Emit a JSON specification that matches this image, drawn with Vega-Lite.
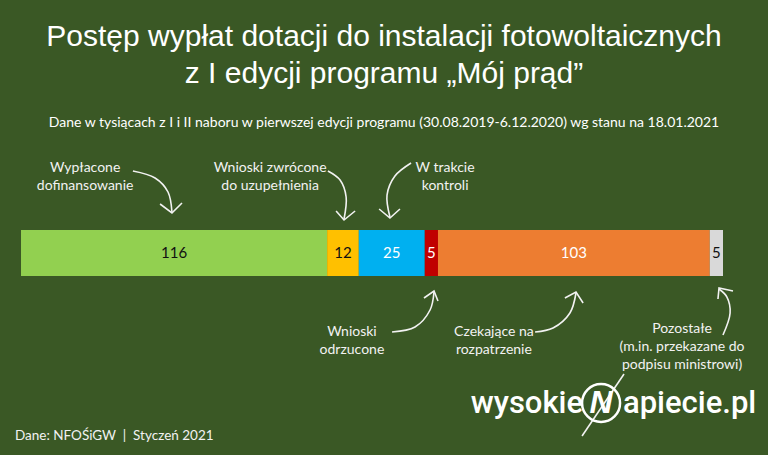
{
  "$schema": "https://vega.github.io/schema/vega-lite/v6.json",
  "width": 768,
  "height": 455,
  "autosize": {"type": "fit", "contains": "padding"},
  "padding": {"top": 22, "left": 0, "right": 0, "bottom": 0},
  "background": "#3a5825",
  "config": {"view": {"stroke": null}},
  "title": {
    "text": ["Postęp wypłat dotacji do instalacji fotowoltaicznych", "z I edycji programu „Mój prąd”"],
    "subtitle": "Dane w tysiącach z I i II naboru w pierwszej edycji programu (30.08.2019-6.12.2020) wg stanu na 18.01.2021",
    "anchor": "middle",
    "frame": "group",
    "color": "#ffffff",
    "font": "Liberation Sans",
    "fontSize": 30,
    "fontWeight": "normal",
    "lineHeight": 37,
    "subtitleColor": "#ffffff",
    "subtitleFont": "Lato",
    "subtitleFontSize": 14,
    "subtitlePadding": 27,
    "offset": 12
  },
  "datasets": {
    "bar": [
      {"cat": "Wypłacone dofinansowanie", "value": 116, "ord": 1, "dark": true},
      {"cat": "Wnioski zwrócone do uzupełnienia", "value": 12, "ord": 2, "dark": true},
      {"cat": "W trakcie kontroli", "value": 25, "ord": 3, "dark": false},
      {"cat": "Wnioski odrzucone", "value": 5, "ord": 4, "dark": false},
      {"cat": "Czekające na rozpatrzenie", "value": 103, "ord": 5, "dark": false},
      {"cat": "Pozostałe", "value": 5, "ord": 6, "dark": true}
    ],
    "notes": [
      {"t": "Wypłacone\ndofinansowanie", "x": 24.3, "y": 92},
      {"t": "Wnioski zwrócone\ndo uzupełnienia", "x": 94.4, "y": 92},
      {"t": "W trakcie\nkontroli", "x": 160.7, "y": 92},
      {"t": "Wnioski\nodrzucone", "x": 125.4, "y": -72},
      {"t": "Czekające na\nrozpatrzenie", "x": 179.2, "y": -72},
      {"t": "Pozostałe\n(m.in. przekazane do\npodpisu ministrowi)", "x": 250.5, "y": -69}
    ],
    "arrows": [
      {"a": 1, "s": 1, "x": 42.4, "y": 82}, {"a": 1, "s": 2, "x": 50.8, "y": 75}, {"a": 1, "s": 3, "x": 55.7, "y": 61}, {"a": 1, "s": 4, "x": 57.2, "y": 41},
      {"a": 2, "s": 1, "x": 116.3, "y": 82}, {"a": 2, "s": 2, "x": 120.9, "y": 73}, {"a": 2, "s": 3, "x": 123.2, "y": 56}, {"a": 2, "s": 4, "x": 122.4, "y": 34},
      {"a": 3, "s": 1, "x": 147.8, "y": 90}, {"a": 3, "s": 2, "x": 141.7, "y": 77}, {"a": 3, "s": 3, "x": 138.7, "y": 58}, {"a": 3, "s": 4, "x": 139.8, "y": 36},
      {"a": 4, "s": 1, "x": 140.6, "y": -79}, {"a": 4, "s": 2, "x": 149.3, "y": -74}, {"a": 4, "s": 3, "x": 155.0, "y": -57}, {"a": 4, "s": 4, "x": 156.5, "y": -39},
      {"a": 5, "s": 1, "x": 194.8, "y": -79}, {"a": 5, "s": 2, "x": 201.6, "y": -75}, {"a": 5, "s": 3, "x": 208.0, "y": -60}, {"a": 5, "s": 4, "x": 210.3, "y": -40},
      {"a": 6, "s": 1, "x": 266.0, "y": -82}, {"a": 6, "s": 2, "x": 268.7, "y": -60}, {"a": 6, "s": 3, "x": 267.5, "y": -44}, {"a": 6, "s": 4, "x": 264.5, "y": -36}
    ],
    "heads": [
      {"h": 1, "s": 1, "x": 52.7, "y": 49}, {"h": 1, "s": 2, "x": 57.2, "y": 40}, {"h": 1, "s": 3, "x": 61.0, "y": 50},
      {"h": 2, "s": 1, "x": 119.4, "y": 42}, {"h": 2, "s": 2, "x": 122.4, "y": 33}, {"h": 2, "s": 3, "x": 126.6, "y": 42},
      {"h": 3, "s": 1, "x": 135.7, "y": 44}, {"h": 3, "s": 2, "x": 139.8, "y": 35}, {"h": 3, "s": 3, "x": 143.6, "y": 44},
      {"h": 4, "s": 1, "x": 152.7, "y": -45}, {"h": 4, "s": 2, "x": 156.5, "y": -38}, {"h": 4, "s": 3, "x": 158.0, "y": -48},
      {"h": 5, "s": 1, "x": 206.1, "y": -45}, {"h": 5, "s": 2, "x": 210.3, "y": -39}, {"h": 5, "s": 3, "x": 213.0, "y": -50},
      {"h": 6, "s": 1, "x": 269.8, "y": -38}, {"h": 6, "s": 2, "x": 264.5, "y": -35}, {"h": 6, "s": 3, "x": 264.1, "y": -46},
      {"h": 7, "s": 1, "x": 228.5, "y": -121}, {"h": 7, "s": 2, "x": 212.6, "y": -183}
    ],
    "logoLeft": [
      {"t": "wysokie", "x": 213.0, "y": -160}
    ],
    "logoRight": [
      {"t": "apiecie.pl", "x": 228.1, "y": -160}
    ],
    "ring": [
      {"x": 219.8, "y": -150}
    ],
    "footer": [
      {"t": "Dane: NFOŚiGW\u00a0 |\u00a0 Styczeń 2021", "x": -2.3, "y": -187}
    ]
  },
  "layer": [
    {
      "data": {"name": "bar"},
      "transform": [
        {"stack": "value", "groupby": [], "sort": [{"field": "ord"}], "as": ["x0", "x1"]}
      ],
      "mark": {"type": "bar"},
      "encoding": {
        "x": {"field": "x0", "type": "quantitative", "scale": {"domain": [-7.96, 283.06], "nice": false, "zero": false}, "axis": null},
        "x2": {"field": "x1"},
        "y": {"datum": 23, "type": "quantitative", "scale": {"domain": [-202, 111], "nice": false, "zero": false}, "axis": null},
        "y2": {"datum": -23},
        "color": {
          "field": "cat", "type": "nominal", "legend": null,
          "scale": {
            "domain": ["Wypłacone dofinansowanie", "Wnioski zwrócone do uzupełnienia", "W trakcie kontroli", "Wnioski odrzucone", "Czekające na rozpatrzenie", "Pozostałe"],
            "range": ["#92d050", "#ffc000", "#00b0f0", "#c00000", "#ed7d31", "#d9d9d9"]
          }
        }
      }
    },
    {
      "data": {"name": "bar"},
      "transform": [
        {"stack": "value", "groupby": [], "sort": [{"field": "ord"}], "as": ["x0", "x1"]},
        {"calculate": "(datum.x0 + datum.x1) / 2", "as": "mid"}
      ],
      "mark": {"type": "text", "font": "Lato", "fontSize": 15, "baseline": "middle", "align": "center"},
      "encoding": {
        "x": {"field": "mid", "type": "quantitative", "scale": {"domain": [-7.96, 283.06], "nice": false, "zero": false}, "axis": null},
        "y": {"datum": 0, "type": "quantitative", "scale": {"domain": [-202, 111], "nice": false, "zero": false}, "axis": null},
        "text": {"field": "value", "type": "quantitative"},
        "color": {"condition": {"test": "datum.dark", "value": "#111111"}, "value": "#ffffff"}
      }
    },
    {
      "data": {"name": "notes"},
      "mark": {"type": "text", "font": "Lato", "fontSize": 14, "lineHeight": 18, "lineBreak": "\n", "align": "center", "baseline": "top", "color": "#f2f2f2"},
      "encoding": {
        "x": {"field": "x", "type": "quantitative", "scale": {"domain": [-7.96, 283.06], "nice": false, "zero": false}, "axis": null},
        "y": {"field": "y", "type": "quantitative", "scale": {"domain": [-202, 111], "nice": false, "zero": false}, "axis": null},
        "text": {"field": "t"}
      }
    },
    {
      "data": {"name": "arrows"},
      "mark": {"type": "line", "interpolate": "catmull-rom", "color": "#f2f2f2", "strokeWidth": 1.6},
      "encoding": {
        "x": {"field": "x", "type": "quantitative", "scale": {"domain": [-7.96, 283.06], "nice": false, "zero": false}, "axis": null},
        "y": {"field": "y", "type": "quantitative", "scale": {"domain": [-202, 111], "nice": false, "zero": false}, "axis": null},
        "detail": {"field": "a"},
        "order": {"field": "s"}
      }
    },
    {
      "data": {"name": "heads"},
      "mark": {"type": "line", "color": "#f2f2f2", "strokeWidth": 1.6},
      "encoding": {
        "x": {"field": "x", "type": "quantitative", "scale": {"domain": [-7.96, 283.06], "nice": false, "zero": false}, "axis": null},
        "y": {"field": "y", "type": "quantitative", "scale": {"domain": [-202, 111], "nice": false, "zero": false}, "axis": null},
        "detail": {"field": "h"},
        "order": {"field": "s"}
      }
    },
    {
      "data": {"name": "ring"},
      "mark": {"type": "point", "shape": "circle", "filled": false, "size": 1444, "stroke": "#ffffff", "strokeWidth": 2.5, "opacity": 1},
      "encoding": {
        "x": {"field": "x", "type": "quantitative", "scale": {"domain": [-7.96, 283.06], "nice": false, "zero": false}, "axis": null},
        "y": {"field": "y", "type": "quantitative", "scale": {"domain": [-202, 111], "nice": false, "zero": false}, "axis": null}
      }
    },
    {
      "data": {"name": "ring"},
      "mark": {"type": "text", "text": "N", "font": "Liberation Sans", "fontSize": 32, "fontWeight": "bold", "fontStyle": "italic", "align": "center", "baseline": "middle", "color": "#ffffff"},
      "encoding": {
        "x": {"field": "x", "type": "quantitative", "scale": {"domain": [-7.96, 283.06], "nice": false, "zero": false}, "axis": null},
        "y": {"field": "y", "type": "quantitative", "scale": {"domain": [-202, 111], "nice": false, "zero": false}, "axis": null}
      }
    },
    {
      "data": {"name": "logoLeft"},
      "mark": {"type": "text", "font": "Roboto", "fontSize": 31, "fontWeight": 500, "align": "right", "baseline": "alphabetic", "color": "#ffffff"},
      "encoding": {
        "x": {"field": "x", "type": "quantitative", "scale": {"domain": [-7.96, 283.06], "nice": false, "zero": false}, "axis": null},
        "y": {"field": "y", "type": "quantitative", "scale": {"domain": [-202, 111], "nice": false, "zero": false}, "axis": null},
        "text": {"field": "t"}
      }
    },
    {
      "data": {"name": "logoRight"},
      "mark": {"type": "text", "font": "Roboto", "fontSize": 31, "fontWeight": 500, "align": "left", "baseline": "alphabetic", "color": "#ffffff"},
      "encoding": {
        "x": {"field": "x", "type": "quantitative", "scale": {"domain": [-7.96, 283.06], "nice": false, "zero": false}, "axis": null},
        "y": {"field": "y", "type": "quantitative", "scale": {"domain": [-202, 111], "nice": false, "zero": false}, "axis": null},
        "text": {"field": "t"}
      }
    },
    {
      "data": {"name": "footer"},
      "mark": {"type": "text", "font": "Lato", "fontSize": 13.5, "align": "left", "baseline": "alphabetic", "color": "#f2f2f2"},
      "encoding": {
        "x": {"field": "x", "type": "quantitative", "scale": {"domain": [-7.96, 283.06], "nice": false, "zero": false}, "axis": null},
        "y": {"field": "y", "type": "quantitative", "scale": {"domain": [-202, 111], "nice": false, "zero": false}, "axis": null},
        "text": {"field": "t"}
      }
    }
  ]
}
